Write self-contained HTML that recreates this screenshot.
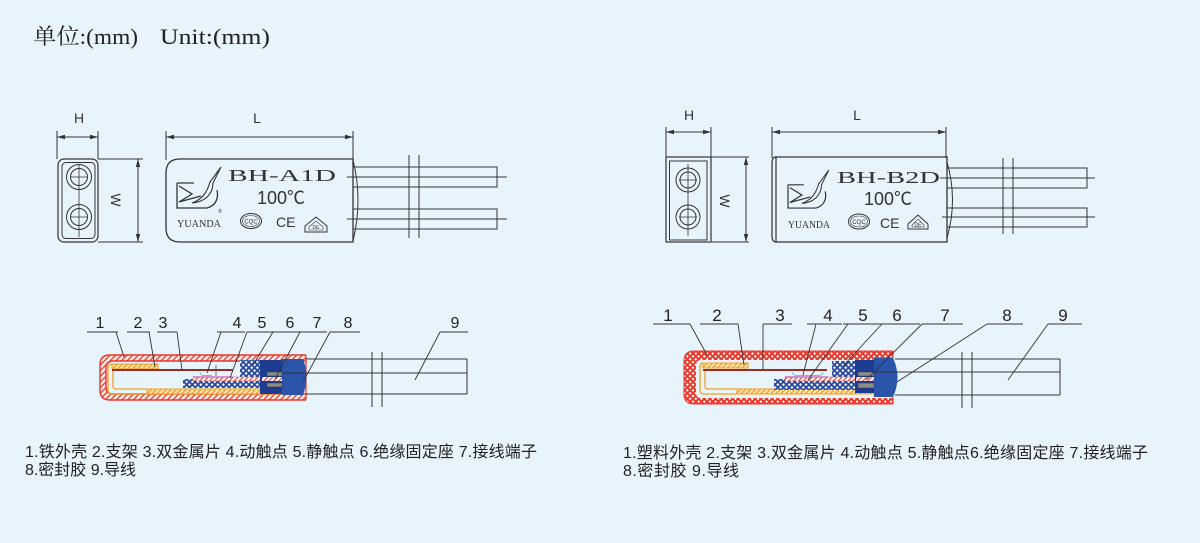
<!DOCTYPE html>
<html><head><meta charset="utf-8"><style>
html,body{margin:0;padding:0;background:#e8f4fc;}
svg{display:block;}
.s{font-family:"Liberation Sans","Noto Sans CJK SC",sans-serif;}
.r{font-family:"Liberation Serif","Noto Serif CJK SC",serif;}
</style></head><body>
<svg width="1200" height="543" viewBox="0 0 1200 543" xmlns="http://www.w3.org/2000/svg">
<defs>
<marker id="ar" viewBox="0 0 8 6" refX="8" refY="3" markerWidth="8" markerHeight="6" markerUnits="userSpaceOnUse" orient="auto-start-reverse"><path d="M0,0.8 L8,3 L0,5.2 Z" fill="#333"/></marker>
<pattern id="rh" width="4" height="4" patternUnits="userSpaceOnUse" patternTransform="rotate(45)"><rect width="4" height="4" fill="#fbeeea"/><line x1="1" y1="0" x2="1" y2="4" stroke="#e8362c" stroke-width="1.3"/></pattern>
<pattern id="oh" width="3.5" height="3.5" patternUnits="userSpaceOnUse" patternTransform="rotate(45)"><rect width="3.5" height="3.5" fill="#fbe6b8"/><line x1="1" y1="0" x2="1" y2="3.5" stroke="#f0a020" stroke-width="1.4"/></pattern>
<pattern id="rw" width="3.5" height="3.5" patternUnits="userSpaceOnUse" patternTransform="rotate(45)"><rect width="3.5" height="3.5" fill="#ffffff"/><line x1="1" y1="0" x2="1" y2="3.5" stroke="#e04a40" stroke-width="1.2"/></pattern>
<pattern id="bc" width="4" height="4" patternUnits="userSpaceOnUse" patternTransform="rotate(45)"><rect width="4" height="4" fill="#24469c"/><rect x="0.9" y="0.9" width="2.2" height="2.2" fill="#ffffff"/></pattern>
<pattern id="rc" width="4" height="4" patternUnits="userSpaceOnUse" patternTransform="rotate(45)"><rect width="4" height="4" fill="#ea3a2e"/><rect x="1" y="1" width="2" height="2" fill="#ffffff"/></pattern>
</defs>

<!-- Header -->
<text class="r" x="33" y="44" font-size="22" fill="#222" textLength="105" lengthAdjust="spacingAndGlyphs">单位:(mm)</text>
<text class="r" x="160" y="44" font-size="22" fill="#222" textLength="110" lengthAdjust="spacingAndGlyphs">Unit:(mm)</text>

<!-- ================= LEFT TOP ================= -->
<g stroke="#333" stroke-width="1" fill="none">
  <line x1="57" y1="131" x2="57" y2="159"/>
  <line x1="98" y1="131" x2="98" y2="159"/>
  <line x1="57" y1="137" x2="98" y2="137" marker-start="url(#ar)" marker-end="url(#ar)"/>
  <rect x="58" y="159" width="40" height="83" rx="6" stroke-width="1.2"/>
  <rect x="62" y="162.5" width="33" height="76" rx="4" stroke-width="1"/>
  <circle cx="79" cy="177" r="12.5"/><circle cx="79" cy="177" r="8.5"/>
  <circle cx="79" cy="217" r="12.5"/><circle cx="79" cy="217" r="8.5"/>
  <line x1="79" y1="164" x2="79" y2="237" stroke-width="0.8"/>
  <line x1="70" y1="177" x2="88" y2="177" stroke-width="0.8"/>
  <line x1="70" y1="217" x2="88" y2="217" stroke-width="0.8"/>
  <line x1="98" y1="159" x2="143" y2="159"/>
  <line x1="98" y1="242" x2="143" y2="242"/>
  <line x1="138" y1="159" x2="138" y2="242" marker-start="url(#ar)" marker-end="url(#ar)"/>
  <line x1="166" y1="131" x2="166" y2="160"/>
  <line x1="353" y1="131" x2="353" y2="160"/>
  <line x1="166" y1="137" x2="353" y2="137" marker-start="url(#ar)" marker-end="url(#ar)"/>
  <path d="M353,159 H180 Q166,159 166,173 V228 Q166,242 180,242 H353 Z" stroke-width="1.3"/>
  <path d="M353,160 Q363,200 353,241" stroke-width="1"/>
  <path d="M353,167 H497 V187 H353"/>
  <path d="M353,209 H497 V229 H353"/>
  <line x1="347" y1="177" x2="507" y2="177"/>
  <line x1="347" y1="219" x2="507" y2="219"/>
  <line x1="409" y1="155" x2="409" y2="238"/>
  <line x1="419" y1="155" x2="419" y2="238"/>
</g>
<text class="s" x="79" y="123" font-size="14" fill="#333" text-anchor="middle">H</text>
<text class="s" x="257" y="123" font-size="14" fill="#333" text-anchor="middle">L</text>
<text class="s" x="116" y="205" font-size="14" fill="#333" text-anchor="middle" transform="rotate(90 116 200)">W</text>
<g transform="translate(177,166)" stroke="#333" stroke-width="1.3" fill="none">
  <path d="M0,17 H17 M0,17 V42 H30"/>
  <path d="M30,42 C38,40 42,33 40,24"/>
  <path d="M2,20 L15,28 L2,36 L24,30"/>
  <path d="M15,37 C26,33 30,26 33,16 L44,1 L36,17 C36,28 28,36 15,37 Z" stroke-width="1.1"/>
</g>
<text class="s" x="218" y="213" font-size="5" fill="#333">®</text>
<text class="r" x="177" y="227" font-size="11" fill="#333" textLength="44" lengthAdjust="spacingAndGlyphs">YUANDA</text>
<text class="r" x="228" y="181" font-size="17" fill="#333" textLength="108" lengthAdjust="spacingAndGlyphs">BH-A1D</text>
<text class="s" x="281" y="204" font-size="18" fill="#333" text-anchor="middle">100℃</text>
<g stroke="#333" fill="none">
  <ellipse cx="251" cy="221" rx="10.5" ry="7.5" stroke-width="1"/>
  <ellipse cx="251" cy="221" rx="8.5" ry="5.5" stroke-width="0.6"/>
  <path d="M305,232 V226 L316,217 L327,226 V232 Z" stroke-width="1"/>
  <path d="M309,230 V227 L316,221 L323,227 V230 Z" stroke-width="0.6"/>
</g>
<text class="s" x="251" y="223.5" font-size="6" fill="#333" text-anchor="middle">CQC</text>
<text class="s" x="276" y="227" font-size="14" fill="#333">CE</text>
<text class="s" x="316" y="229" font-size="5" fill="#333" text-anchor="middle">DE</text>

<!-- ================= RIGHT TOP ================= -->
<g stroke="#333" stroke-width="1" fill="none">
  <line x1="666" y1="127" x2="666" y2="157"/>
  <line x1="711" y1="127" x2="711" y2="157"/>
  <line x1="666" y1="132" x2="711" y2="132" marker-start="url(#ar)" marker-end="url(#ar)"/>
  <rect x="666" y="157" width="45" height="85" stroke-width="1.2"/>
  <rect x="669.5" y="161" width="37.5" height="79" stroke-width="1"/>
  <circle cx="688" cy="180" r="12"/><circle cx="688" cy="180" r="8"/>
  <circle cx="688" cy="217" r="12"/><circle cx="688" cy="217" r="8"/>
  <line x1="688" y1="164" x2="688" y2="236" stroke-width="0.8"/>
  <line x1="679" y1="180" x2="697" y2="180" stroke-width="0.8"/>
  <line x1="679" y1="217" x2="697" y2="217" stroke-width="0.8"/>
  <line x1="711" y1="157" x2="749" y2="157"/>
  <line x1="711" y1="242" x2="749" y2="242"/>
  <line x1="746" y1="157" x2="746" y2="242" marker-start="url(#ar)" marker-end="url(#ar)"/>
  <line x1="772" y1="127" x2="772" y2="158"/>
  <line x1="946" y1="127" x2="946" y2="158"/>
  <line x1="772" y1="132" x2="946" y2="132" marker-start="url(#ar)" marker-end="url(#ar)"/>
  <path d="M776,157 H947 V242 H776" stroke-width="1.3"/>
  <path d="M776,157 Q772,157 772,163 V236 Q772,242 776,242 Z" stroke-width="1.2"/>
  <path d="M947,162 Q958,200 947,238" stroke-width="1"/>
  <path d="M947,168 H1087 V188 H947"/>
  <path d="M947,208 H1087 V227 H947"/>
  <line x1="940" y1="178" x2="1095" y2="178"/>
  <line x1="942" y1="217" x2="1095" y2="217"/>
  <line x1="1003" y1="158" x2="1003" y2="234"/>
  <line x1="1013" y1="158" x2="1013" y2="234"/>
</g>
<text class="s" x="689" y="120" font-size="14" fill="#333" text-anchor="middle">H</text>
<text class="s" x="857" y="120" font-size="14" fill="#333" text-anchor="middle">L</text>
<text class="s" x="725" y="206" font-size="14" fill="#333" text-anchor="middle" transform="rotate(90 725 201)">W</text>
<g transform="translate(788,169) scale(0.93)" stroke="#333" stroke-width="1.3" fill="none">
  <path d="M0,17 H17 M0,17 V42 H30"/>
  <path d="M30,42 C38,40 42,33 40,24"/>
  <path d="M2,20 L15,28 L2,36 L24,30"/>
  <path d="M15,37 C26,33 30,26 33,16 L44,1 L36,17 C36,28 28,36 15,37 Z" stroke-width="1.1"/>
</g>
<text class="r" x="788" y="228" font-size="11" fill="#333" textLength="42" lengthAdjust="spacingAndGlyphs">YUANDA</text>
<text class="r" x="837" y="183" font-size="17" fill="#333" textLength="103" lengthAdjust="spacingAndGlyphs">BH-B2D</text>
<text class="s" x="888" y="205" font-size="18" fill="#333" text-anchor="middle">100℃</text>
<g stroke="#333" fill="none">
  <ellipse cx="859" cy="221.5" rx="10.5" ry="7.5" stroke-width="1"/>
  <ellipse cx="859" cy="221.5" rx="8.5" ry="5.5" stroke-width="0.6"/>
  <path d="M908,229 V224 L918,215 L928,224 V229 Z" stroke-width="1"/>
  <path d="M912,227 V225 L918,219 L924,225 V227 Z" stroke-width="0.6"/>
</g>
<text class="s" x="859" y="224" font-size="6" fill="#333" text-anchor="middle">CQC</text>
<text class="s" x="880" y="228" font-size="14" fill="#333">CE</text>
<text class="s" x="918" y="226.5" font-size="5" fill="#333" text-anchor="middle">DE</text>

<!-- ================= LEFT CROSS-SECTION ================= -->
<path d="M306,355 H110 Q100,355 100,365 V390 Q100,400 110,400 H306 Z M306,361 H113 Q106,361 106,368 V387 Q106,394 113,394 H306 Z" fill="url(#rh)" fill-rule="evenodd"/>
<path d="M306,355 H110 Q100,355 100,365 V390 Q100,400 110,400 H306 M306,361 H113 Q106,361 106,368 V387 Q106,394 113,394 H306" fill="none" stroke="#e8362c" stroke-width="1.4"/>
<line x1="306" y1="355" x2="306" y2="400" stroke="#e8362c" stroke-width="1.2"/>
<path d="M112,364 H158 V369 H112 Z" fill="url(#oh)" stroke="#f0a020" stroke-width="1.1"/>
<path d="M147,389 H282 V394 H147 Z" fill="url(#oh)" stroke="#f0a020" stroke-width="1.1"/>
<path d="M112,364 Q108,364 108,368 V390 Q108,394 112,394 H147" fill="none" stroke="#f0a020" stroke-width="1.3"/>
<path d="M113,369 V386 Q113,389 116,389 H147" fill="none" stroke="#f0a020" stroke-width="1.3"/>
<rect x="112" y="369" width="121" height="2" fill="#9a2b25"/>
<rect x="240" y="360" width="20" height="17" fill="url(#bc)"/>
<rect x="183" y="379" width="77" height="9" fill="url(#bc)"/>
<rect x="193" y="377" width="89" height="4" fill="url(#rw)" stroke="#c84040" stroke-width="0.4"/>
<line x1="193" y1="377" x2="233" y2="377" stroke="#d070c8" stroke-width="1.6"/>
<path d="M200,372 Q200,375.5 204,375.5 H212" fill="none" stroke="#5cc8e0" stroke-width="1"/>
<line x1="216" y1="365" x2="216" y2="376" stroke="#555" stroke-width="0.8"/>
<rect x="260" y="360" width="22" height="34" fill="#1e3d92"/>
<path d="M282,359 H303 Q310,377 303,395 H282 Z" fill="#2b55aa"/>
<rect x="267" y="372" width="15" height="4" fill="#8c8c8c" stroke="#333" stroke-width="0.5"/>
<rect x="267" y="383" width="15" height="4" fill="#8c8c8c" stroke="#333" stroke-width="0.5"/>
<rect x="262" y="377" width="20" height="4" fill="url(#rw)"/>
<g stroke="#333" stroke-width="1" fill="none">
  <line x1="306" y1="359" x2="467" y2="359"/>
  <line x1="282" y1="373" x2="467" y2="373"/>
  <line x1="306" y1="394" x2="467" y2="394"/>
  <line x1="467" y1="359" x2="467" y2="394"/>
  <line x1="372" y1="352" x2="372" y2="407"/>
  <line x1="382" y1="352" x2="382" y2="407"/>
</g>
<g stroke="#333" stroke-width="0.9" fill="none">
  <path d="M87,332 H118 M116,332 L124,357"/>
  <path d="M127,332 H150 M149,332 L155,367"/>
  <path d="M157,332 H177 M177,332 L182,370"/>
  <path d="M217,332 H245 M221,332 L207,373"/>
  <path d="M247,332 H273 M247,332 L230,378"/>
  <path d="M273,332 H300 M273,332 L253,365"/>
  <path d="M300,332 H327 M300,332 L275,379"/>
  <path d="M330,332 H360 M330,332 L303,382"/>
  <path d="M440,332 H468 M440,332 L415,380"/>
</g>
<g class="s" font-size="16" fill="#222" text-anchor="middle">
  <text x="100" y="328">1</text><text x="138" y="328">2</text><text x="163" y="328">3</text>
  <text x="237" y="328">4</text><text x="262" y="328">5</text><text x="290" y="328">6</text>
  <text x="317" y="328">7</text><text x="348" y="328">8</text><text x="455" y="328">9</text>
</g>

<!-- ================= RIGHT CROSS-SECTION ================= -->
<path d="M893,351 H694 Q684,351 684,361 V394 Q684,404 694,404 H893 Z M893,360 H701 Q696,360 696,365 V393 Q696,398 701,398 H893 Z" fill="url(#rc)" fill-rule="evenodd"/>
<path d="M893,351 H694 Q684,351 684,361 V394 Q684,404 694,404 H893 V351" fill="none" stroke="#e8362c" stroke-width="1"/>
<path d="M703,363 H748 V368 H703 Z" fill="url(#oh)" stroke="#f0a020" stroke-width="1.1"/>
<path d="M737,389 H874 V394 H737 Z" fill="url(#oh)" stroke="#f0a020" stroke-width="1.1"/>
<path d="M703,363 Q700,363 700,367 V390 Q700,394 704,394 H737" fill="none" stroke="#f0a020" stroke-width="1.3"/>
<path d="M705,369 V386 Q705,389 708,389 H737" fill="none" stroke="#f0a020" stroke-width="1.3"/>
<rect x="703" y="369" width="124" height="2" fill="#9a2b25"/>
<rect x="832" y="361" width="23" height="16" fill="url(#bc)"/>
<rect x="774" y="379" width="81" height="11" fill="url(#bc)"/>
<rect x="785" y="377" width="89" height="4" fill="url(#rw)" stroke="#c84040" stroke-width="0.4"/>
<line x1="785" y1="377" x2="828" y2="377" stroke="#d070c8" stroke-width="1.6"/>
<path d="M792,372 Q793,375.5 798,375.5 H818 Q823,375.5 823,372" fill="none" stroke="#5cc8e0" stroke-width="1"/>
<rect x="855" y="360" width="19" height="33" fill="#1e3d92"/>
<path d="M874,358 H893 Q902,377 893,397 H874 Z" fill="#2b55aa"/>
<rect x="858" y="372" width="16" height="4" fill="#8c8c8c" stroke="#333" stroke-width="0.5"/>
<rect x="858" y="383" width="16" height="5" fill="#8c8c8c" stroke="#333" stroke-width="0.5"/>
<rect x="856" y="377" width="18" height="4" fill="url(#rw)"/>
<g stroke="#333" stroke-width="1" fill="none">
  <line x1="895" y1="359" x2="1060" y2="359"/>
  <line x1="874" y1="372" x2="1060" y2="372"/>
  <line x1="895" y1="395" x2="1060" y2="395"/>
  <line x1="1060" y1="359" x2="1060" y2="395"/>
  <line x1="962" y1="352" x2="962" y2="408"/>
  <line x1="972" y1="352" x2="972" y2="408"/>
</g>
<g stroke="#333" stroke-width="0.9" fill="none">
  <path d="M653,324 H690 L707,355"/>
  <path d="M700,324 H738 L744,365"/>
  <path d="M763,324 H792 M763,324 V369"/>
  <path d="M807,324 H842 M816,324 L803,375"/>
  <path d="M843,324 H878 M848,324 L808,380"/>
  <path d="M878,324 H920 M882,324 L843,366"/>
  <path d="M922,324 H963 M922,324 L866,380"/>
  <path d="M987,324 H1023 M987,324 L897,382"/>
  <path d="M1048,324 H1082 M1048,324 L1008,380"/>
</g>
<g class="s" font-size="17" fill="#222" text-anchor="middle">
  <text x="668" y="321">1</text><text x="717" y="321">2</text><text x="780" y="321">3</text>
  <text x="828" y="321">4</text><text x="863" y="321">5</text><text x="897" y="321">6</text>
  <text x="945" y="321">7</text><text x="1007" y="321">8</text><text x="1063" y="321">9</text>
</g>

<!-- captions -->
<g class="s" font-size="16" fill="#222">
  <text x="25" y="457" textLength="512">1.铁外壳 2.支架 3.双金属片 4.动触点 5.静触点 6.绝缘固定座 7.接线端子</text>
  <text x="25" y="475" textLength="111">8.密封胶 9.导线</text>
  <text x="623" y="458" textLength="525">1.塑料外壳 2.支架 3.双金属片 4.动触点 5.静触点6.绝缘固定座 7.接线端子</text>
  <text x="623" y="476" textLength="116">8.密封胶 9.导线</text>
</g>
</svg>
</body></html>
